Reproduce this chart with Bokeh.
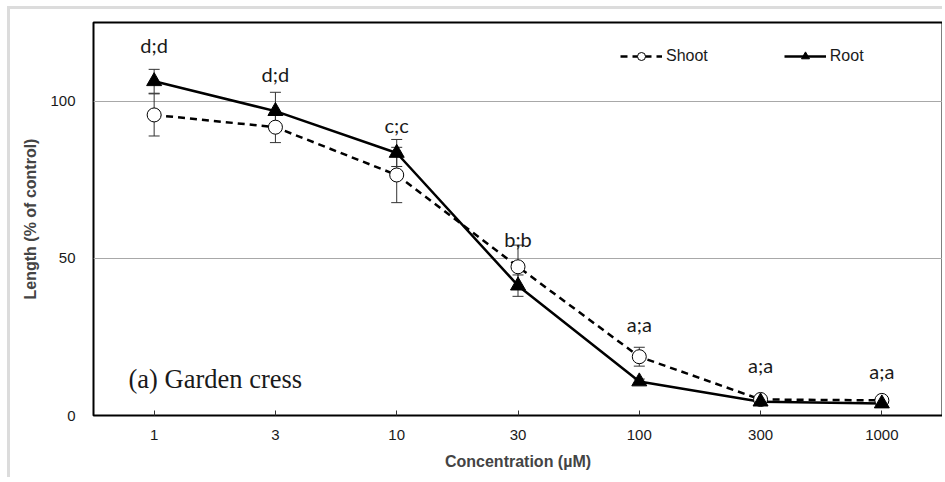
from bokeh.plotting import figure
from bokeh.models import (ColumnDataSource, FactorRange, FixedTicker, Whisker, TeeHead,
                          Legend, LegendItem, Label)
from bokeh.core.properties import value
from bokeh.embed import file_html
from bokeh.resources import INLINE

# ---- data ----
conc = ["1", "3", "10", "30", "100", "300", "1000"]
shoot = [95.6, 91.7, 76.5, 47.3, 18.7, 5.1, 4.8]
shoot_err = [6.7, 4.9, 8.8, 6.9, 3.0, 0.8, 0.8]
root = [106.3, 96.8, 83.5, 41.3, 10.8, 4.4, 3.8]
root_err = [3.8, 6.0, 4.3, 3.4, 0.8, 0.5, 0.5]
letters = ["d;d", "d;d", "c;c", "b;b", "a;a", "a;a", "a;a"]
letter_y = [118, 108.5, 92.5, 56, 29, 16, 14]
y_ticks = [0, 50, 100]

src = ColumnDataSource(dict(
    x=conc, shoot=shoot, root=root,
    s_up=[v + e for v, e in zip(shoot, shoot_err)],
    s_lo=[v - e for v, e in zip(shoot, shoot_err)],
    r_up=[v + e for v, e in zip(root, root_err)],
    r_lo=[v - e for v, e in zip(root, root_err)],
    lab=letters, lab_y=letter_y,
))

p = figure(width=935, height=471, x_range=FactorRange(*conc), y_range=(0, 125),
           output_backend="svg", toolbar_location=None,
           min_border_left=83, min_border_top=13, min_border_right=3, min_border_bottom=65)
p.styles = {"border-left": "3px solid #dcdcdc", "border-top": "3px solid #dcdcdc",
            "margin-left": "7px", "margin-top": "6px"}

p.outline_line_color = "black"
p.outline_line_width = 2
p.background_fill_color = "white"
p.border_fill_color = "white"

# axes
tick_font = "Liberation Sans"
p.yaxis.ticker = FixedTicker(ticks=y_ticks)
p.yaxis.axis_line_color = None
p.yaxis.major_tick_line_color = None
p.yaxis.minor_tick_line_color = None
p.yaxis.major_label_standoff = 12
p.yaxis.major_label_text_font = tick_font
p.yaxis.major_label_text_font_size = "15px"
p.yaxis.major_label_text_color = "#1a1a1a"
p.yaxis.axis_label = "Length (% of control)"
p.yaxis.axis_label_text_font = tick_font
p.yaxis.axis_label_text_font_style = "bold"
p.yaxis.axis_label_text_font_size = "16px"
p.yaxis.axis_label_standoff = 8

p.xaxis.axis_line_color = None
p.xaxis.major_tick_in = 5
p.xaxis.major_tick_out = 0
p.xaxis.major_tick_line_color = "#333333"
p.xaxis.major_tick_line_width = 1
p.xaxis.major_label_standoff = 14
p.xaxis.major_label_text_font = tick_font
p.xaxis.major_label_text_font_size = "15px"
p.xaxis.major_label_text_color = "#1a1a1a"
p.xaxis.axis_label = "Concentration (µM)"
p.xaxis.axis_label_text_font = tick_font
p.xaxis.axis_label_text_font_style = "bold"
p.xaxis.axis_label_text_font_size = "16px"
p.xaxis.axis_label_standoff = 10

p.xgrid.grid_line_color = None
p.ygrid.ticker = FixedTicker(ticks=y_ticks)
p.ygrid.grid_line_color = "#a8a8a8"
p.ygrid.grid_line_width = 1

# error bars
for up, lo in (("s_up", "s_lo"), ("r_up", "r_lo")):
    w = Whisker(source=src, base="x", upper=up, lower=lo, line_color="#333333", line_width=1,
                upper_head=TeeHead(size=11, line_color="#333333", line_width=1),
                lower_head=TeeHead(size=11, line_color="#333333", line_width=1))
    p.add_layout(w)

# lines & markers
sl = p.line("x", "shoot", source=src, line_color="black", line_width=2.5, line_dash="7 5")
rl = p.line("x", "root", source=src, line_color="black", line_width=2.5)
sm = p.scatter("x", "shoot", source=src, marker="circle", size=14, fill_color="white",
               line_color="black", line_width=1)
rm = p.scatter("x", "root", source=src, marker="triangle", size=15, fill_color="black",
               line_color="black", line_width=1)

# letters
p.text("x", "lab_y", text="lab", source=src, text_align="center", text_baseline="middle",
       text_font=value("Lato"), text_font_size="20px", text_color="#1a1a1a")

# panel label
p.add_layout(Label(x=35, y=22, x_units="screen", y_units="screen", text="(a) Garden cress",
                   text_font="Liberation Serif", text_font_size="26.5px", text_color="#1a1a1a"))

legend = Legend(items=[LegendItem(label="Shoot", renderers=[sl, sm]),
                       LegendItem(label="Root", renderers=[rl, rm])],
                orientation="horizontal", location=(527, 349),
                glyph_width=42, glyph_height=20, label_standoff=4, spacing=76,
                padding=0, margin=0, border_line_color=None, background_fill_alpha=0,
                label_text_font=tick_font, label_text_font_size="16px",
                label_text_color="#1a1a1a")
p.add_layout(legend)

open("out.html", "w").write(file_html(p, INLINE))
